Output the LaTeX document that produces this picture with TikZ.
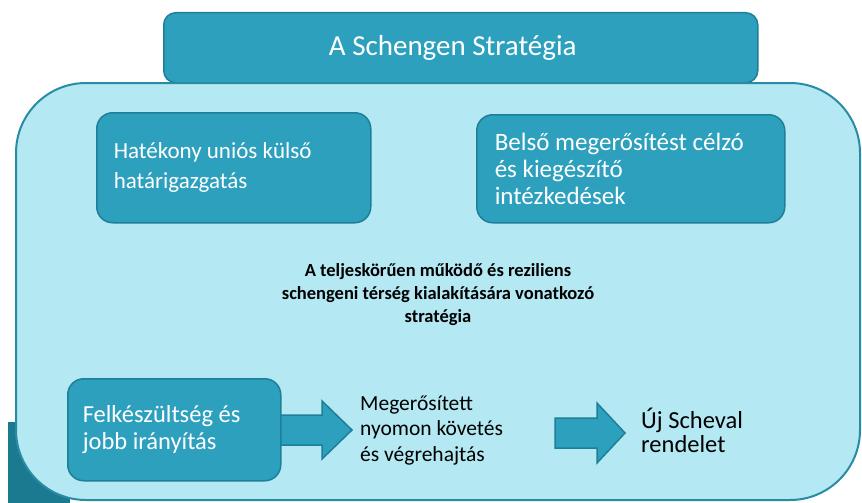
\documentclass[tikz,border=0pt]{standalone}
\usepackage{fontspec}
\setmainfont{Carlito}
\begin{document}
\begin{tikzpicture}[x=1pt,y=-1pt,
  every node/.style={font=\fontsize{23}{28}\selectfont},
  teal/.style={fill=tealfill,draw=tealedge,line width=1.5pt},
  boxtext/.style={teal,rounded corners=16pt,text=white,align=flush left,anchor=north west,inner ysep=0pt},
  plaintext/.style={text=black,align=flush left,anchor=west,inner sep=0pt}]
\definecolor{tealfill}{HTML}{2DA0BE}
\definecolor{tealedge}{HTML}{1F7F98}
\definecolor{lightfill}{HTML}{B4E8F3}
\definecolor{outeredge}{HTML}{2A8CA4}
\definecolor{darkteal}{HTML}{1C7A90}
\useasboundingbox (0,0) rectangle (862,503);
\fill[white] (0,0) rectangle (862,503);
% dark fragment behind lower-left corner
\fill[darkteal] (8,422) rectangle (70,503);
% title box
\node[teal,rounded corners=12pt,minimum width=594pt,minimum height=70pt,anchor=north west] (title) at (163,12) {};
\node[text=white,font=\fontsize{29}{30}\selectfont] (titletext) at ([xshift=-8pt]title.center) {A Schengen Stratégia};
% outer box
\draw[fill=lightfill,draw=outeredge,line width=2pt,rounded corners=70pt] (16,83) rectangle (860,500);
% upper boxes
\node[boxtext,minimum width=274pt,minimum height=110pt,text width=240pt,inner xsep=17pt,
  font=\fontsize{23}{30}\selectfont] (b1) at (96,112)
  {Hatékony uniós külső\\határigazgatás};
\node[boxtext,minimum width=308pt,minimum height=108pt,text width=272pt,inner xsep=18pt,
  font=\fontsize{25}{27}\selectfont] (b2) at (476,114)
  {Belső megerősítést célzó\\és kiegészítő\\intézkedések};
% central text
\node[font=\bfseries\fontsize{18.5}{23}\selectfont,align=center,text=black] (center) at (438,295)
  {A teljeskörűen működő és reziliens\\schengeni térség kialakítására vonatkozó\\stratégia};
% arrows (drawn before box3 so it covers the shaft start)
\draw[teal,line join=miter] (262,415) -- (322,415) -- (322,401) -- (352,430) -- (322,459) -- (322,445) -- (262,445) -- cycle;
\draw[teal,line join=miter] (555,418) -- (597,418) -- (597,403) -- (625,433) -- (597,463) -- (597,448) -- (555,448) -- cycle;
% bottom box
\node[boxtext,minimum width=213pt,minimum height=102pt,text width=183pt,inner xsep=15pt,
  font=\fontsize{24.5}{27}\selectfont] (b3) at (67,378)
  {Felkészültség és\\jobb irányítás};
% plain texts
\node[plaintext,font=\fontsize{21.5}{25.5}\selectfont] (mid) at (360,430)
  {Megerősített\\nyomon követés\\és végrehajtás};
\node[plaintext,font=\fontsize{24.5}{24}\selectfont] (last) at (641,430)
  {Új Scheval\\rendelet};
\end{tikzpicture}
\end{document}
